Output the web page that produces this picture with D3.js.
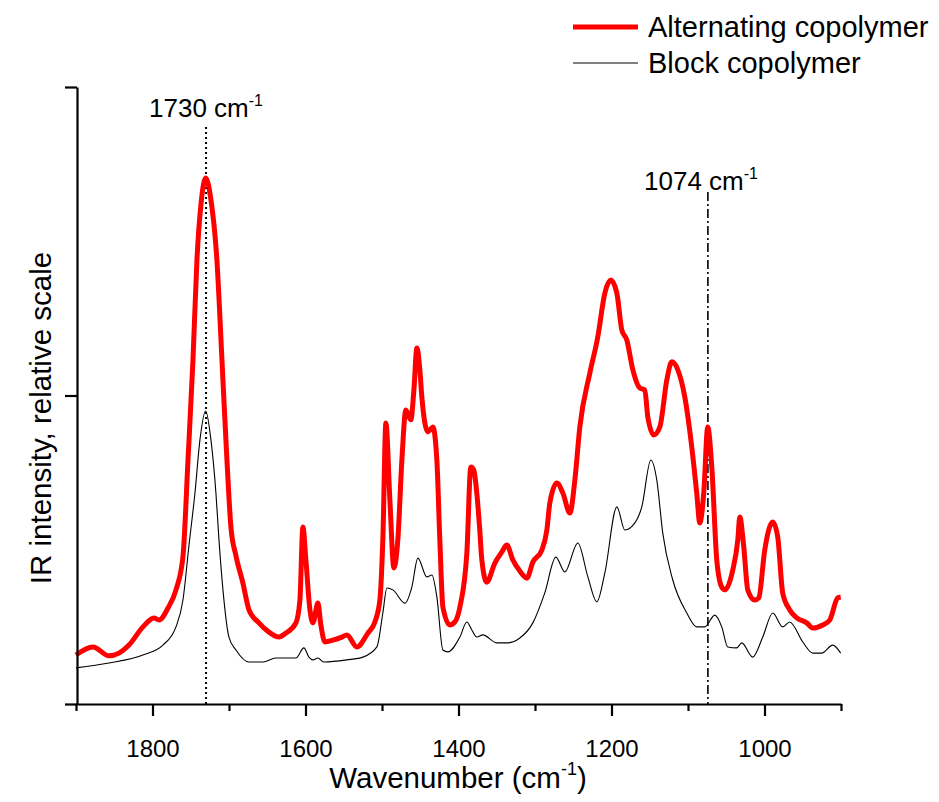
<!DOCTYPE html>
<html><head><meta charset="utf-8">
<script src="https://cdn.jsdelivr.net/npm/d3@7"></script>
<style>body{margin:0;background:#fff}svg{display:block}text{font-family:"Liberation Sans",Arial,sans-serif;fill:#000}</style>
</head><body><svg id="c" width="939" height="802"></svg>
<script>
// Wavenumber (cm-1) and relative intensity
const altWn = [1900,1877.8,1856.9,1843.8,1830.7,1812.5,1798.1,1791.5,1779.8,1769.3,1760.2,1753.6,1747.1,1741.9,1736.7,1730.5,1723.6,1715.8,1709.2,1702.7,1697.5,1690.9,1681.8,1673.9,1660.9,1647.8,1634.7,1625.6,1612.5,1607.3,1603.4,1599.5,1594.2,1590.3,1583.8,1579.9,1574.6,1564.2,1552.4,1545.9,1532.8,1518.4,1509.3,1502.8,1498.9,1494.9,1489.7,1484.5,1479.3,1474.0,1468.8,1462.3,1458.3,1454.4,1450.5,1447.9,1440.0,1433.5,1428.3,1424.4,1420.4,1411.3,1404.8,1398.2,1389.1,1383.9,1380.0,1376.1,1372.2,1369.5,1363.0,1352.5,1343.3,1336.8,1329.0,1319.8,1310.7,1302.8,1291.1,1284.5,1280.6,1271.4,1263.6,1254.4,1247.9,1241.4,1228.3,1217.9,1208.7,1200.9,1193.0,1186.5,1180.0,1172.1,1163.0,1156.5,1152.5,1144.7,1136.8,1127.7,1121.2,1113.3,1104.2,1095.1,1088.6,1084.6,1079.4,1074.2,1068.9,1062.4,1055.9,1051.9,1041.5,1034.9,1032.3,1027.1,1021.9,1012.7,1007.5,999.7,989.2,982.7,976.2,967.0,957.9,944.8,936.9,923.9,914.8,904.3,900.4];
const altI = [0.159,0.185,0.156,0.165,0.191,0.250,0.279,0.272,0.311,0.370,0.477,0.791,1.115,1.439,1.618,1.705,1.634,1.439,1.115,0.791,0.574,0.480,0.392,0.305,0.263,0.233,0.217,0.230,0.263,0.337,0.574,0.467,0.305,0.263,0.327,0.256,0.201,0.207,0.217,0.224,0.185,0.230,0.266,0.337,0.532,0.911,0.661,0.441,0.532,0.791,0.953,0.921,1.018,1.154,1.083,0.995,0.882,0.898,0.791,0.532,0.314,0.256,0.266,0.314,0.489,0.768,0.758,0.684,0.564,0.467,0.395,0.457,0.493,0.515,0.467,0.431,0.408,0.460,0.499,0.564,0.652,0.716,0.684,0.619,0.726,0.898,1.073,1.190,1.332,1.374,1.332,1.212,1.180,1.083,1.024,1.018,0.930,0.872,0.898,1.050,1.109,1.083,0.995,0.833,0.684,0.587,0.684,0.898,0.768,0.467,0.379,0.370,0.434,0.532,0.606,0.509,0.370,0.337,0.344,0.499,0.590,0.541,0.360,0.305,0.279,0.263,0.246,0.256,0.272,0.344,0.347];
const blkWn = [1900,1856.9,1812.5,1786.3,1769.3,1760.2,1752.3,1744.5,1738.0,1730.5,1723.6,1717.1,1713.1,1707.9,1700.1,1690.9,1673.9,1655.6,1638.7,1612.5,1602.1,1595.5,1590.3,1583.8,1575.9,1545.9,1524.9,1506.7,1498.9,1493.6,1485.8,1470.1,1461.0,1453.1,1441.4,1434.8,1428.3,1420.4,1413.9,1398.2,1389.1,1382.6,1376.1,1368.2,1349.9,1336.8,1319.8,1302.8,1287.2,1272.8,1261.0,1244.0,1230.9,1219.2,1208.7,1193.0,1182.6,1169.5,1160.4,1148.6,1140.8,1133.0,1119.9,1101.6,1088.6,1078.1,1065.0,1055.9,1048.0,1036.3,1029.7,1015.4,1002.3,989.2,976.2,967.0,950.0,936.9,925.2,910.8,900.4];
const blkI = [0.117,0.133,0.159,0.191,0.250,0.337,0.515,0.684,0.856,0.950,0.856,0.684,0.532,0.370,0.217,0.175,0.136,0.136,0.149,0.149,0.182,0.152,0.143,0.149,0.136,0.143,0.152,0.185,0.295,0.376,0.370,0.327,0.379,0.473,0.412,0.418,0.347,0.175,0.169,0.217,0.266,0.240,0.217,0.224,0.198,0.198,0.214,0.263,0.360,0.476,0.428,0.522,0.412,0.331,0.425,0.639,0.564,0.587,0.639,0.791,0.726,0.554,0.402,0.295,0.250,0.250,0.288,0.250,0.185,0.182,0.198,0.152,0.217,0.295,0.250,0.266,0.201,0.165,0.165,0.191,0.165];
const xMajor = [1800,1600,1400,1200,1000];
const xMinor = [1900,1700,1500,1300,1100,900];
const yTicks = [0,1,2];
const seriesNames = ["Alternating copolymer","Block copolymer"];
const markers = [1730,1074];

const svg = d3.select("#c");
const x = d3.scaleLinear().domain([1900,900]).range([76,841]);
const y = d3.scaleLinear().domain([0,2]).range([704,87]);

// marker lines
svg.append("line").attr("x1",x(markers[0])).attr("x2",x(markers[0])).attr("y1",127).attr("y2",704)
  .attr("stroke","#000").attr("stroke-width",2).attr("stroke-dasharray","2,3");
svg.append("line").attr("x1",x(markers[1])).attr("x2",x(markers[1])).attr("y1",192).attr("y2",704)
  .attr("stroke","#000").attr("stroke-width",1.6).attr("stroke-dasharray","9,3,2,3");

const line = d3.line().x(d=>x(d[0])).y(d=>y(d[1])).curve(d3.curveMonotoneX);
svg.append("path").datum(blkWn.map((w,i)=>[w,blkI[i]])).attr("d",line)
  .attr("fill","none").attr("stroke","#000").attr("stroke-width",1.1);
svg.append("path").datum(altWn.map((w,i)=>[w,altI[i]])).attr("d",line)
  .attr("fill","none").attr("stroke","#f00").attr("stroke-width",5).attr("stroke-linejoin","round");

// axes
const gx = svg.append("g").attr("transform","translate(0,704)")
  .call(d3.axisBottom(x).tickValues(xMajor).tickSize(12).tickSizeOuter(0).tickFormat(d3.format("d")));
svg.append("g").attr("transform","translate(0,704)")
  .call(d3.axisBottom(x).tickValues(xMinor).tickSize(7).tickSizeOuter(0).tickFormat(""))
  .select(".domain").remove();
gx.selectAll(".tick text").attr("font-size",24).attr("dy",0).attr("y",53).attr("fill","#000");
const gy = svg.append("g").attr("transform","translate(77,0)")
  .call(d3.axisLeft(y).tickValues(yTicks).tickSize(12).tickSizeOuter(0).tickFormat(""));
svg.selectAll(".domain").attr("stroke","#000").attr("stroke-width",2.2);
svg.selectAll(".tick line").attr("stroke","#000").attr("stroke-width",2.2);
svg.selectAll("g").attr("font-family",null);

// axis titles
const xt = svg.append("text").attr("x",458).attr("y",788).attr("text-anchor","middle").attr("font-size",29.5);
xt.append("tspan").text("Wavenumber (cm");
xt.append("tspan").text("-1").attr("font-size",18).attr("dy",-13);
xt.append("tspan").text(")").attr("dy",13);
svg.append("text").attr("transform","translate(51,418) rotate(-90)").attr("text-anchor","middle")
  .attr("font-size",29.5).text("IR intensity, relative scale");

// annotations
function ann(xp,yp,label){
  const t = svg.append("text").attr("x",xp).attr("y",yp).attr("font-size",26);
  t.append("tspan").text(label+" cm");
  t.append("tspan").text("-1").attr("font-size",16).attr("dy",-11);
}
ann(149,117,String(markers[0]));
ann(644,190,String(markers[1]));

// legend
const lg = svg.append("g");
lg.append("line").attr("x1",573).attr("x2",638).attr("y1",27).attr("y2",27).attr("stroke","#f00").attr("stroke-width",5);
lg.append("text").attr("x",648).attr("y",37).attr("font-size",29).text(seriesNames[0]);
lg.append("line").attr("x1",573).attr("x2",638).attr("y1",63).attr("y2",63).attr("stroke","#000").attr("stroke-width",1.2);
lg.append("text").attr("x",648).attr("y",73).attr("font-size",29).text(seriesNames[1]);
</script></body></html>
